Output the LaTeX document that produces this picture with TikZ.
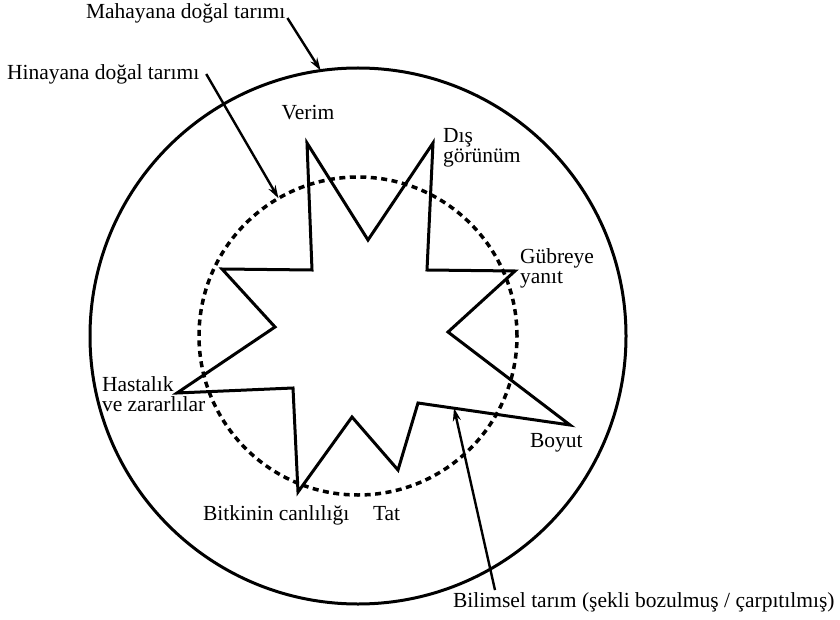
\documentclass[tikz,border=0pt]{standalone}
\usepackage{fontspec}
\setmainfont{Liberation Serif}
\usetikzlibrary{arrows.meta}
\begin{document}
\begin{tikzpicture}[x=1pt,y=-1pt,
  lbl/.style={inner sep=0pt,outer sep=0pt,font=\fontsize{21.5}{20.5}\selectfont},
  mlbl/.style={lbl,align=left,anchor=north west},
  ring/.style={circle,draw,line width=3pt,inner sep=0pt,outer sep=0pt},
  dashring/.style={circle,draw,line width=3.5pt,dash pattern=on 6pt off 4.5pt,inner sep=0pt,outer sep=0pt},
  starline/.style={draw,line width=3pt,line join=miter},
  arr/.style={line width=2.4pt,-{Stealth[length=13pt,width=8pt]}}]
\fill[white] (0,0) rectangle (840,620);
\useasboundingbox (0,0) rectangle (840,620);
% circles
\node[ring,minimum size=536pt] (outer) at (358,336) {};
\node[dashring,minimum size=318pt] (inner) at (358,336) {};
% star
\draw[starline] (307,143) -- (368,240) -- (433,143) -- (427,270) -- (515,271)
  -- (448,332) -- (570,425) -- (418,403) -- (398,470) -- (352,417)
  -- (298,492) -- (293,388) -- (177,393) -- (275,327) -- (222,269)
  -- (312,270) -- cycle;
\coordinate (bt) at (454,408);
% labels
\node[lbl,anchor=base west] (mah) at (86,19) {Mahayana doğal tarımı};
\node[lbl,anchor=base west] (hin) at (7,80) {Hinayana doğal tarımı};
\node[lbl,anchor=base] (verim) at (308,120) {Verim};
\node[mlbl] (dis) at (443,128) {Dış\\görünüm};
\node[mlbl] (gub) at (520,248.5) {Gübreye\\yanıt};
\node[lbl,anchor=base west] (boyut) at (530,447) {Boyut};
\node[lbl,anchor=base west] (bitki) at (203,520) {Bitkinin canlılığı};
\node[lbl,anchor=base west] (tat) at (373,520) {Tat};
\node[mlbl] (hast) at (102,376.5) {Hastalık\\ve zararlılar};
\node[lbl,anchor=base west] (bil) at (453,607) {Bilimsel tarım (şekli bozulmuş / çarpıtılmış)};
% arrows
\draw[arr] ([xshift=2pt,yshift=1pt]mah.base east) -- (outer.98);
\draw[arr] ([xshift=7pt,yshift=6pt]hin.base east) -- (inner.120);
\draw[arr] ([xshift=42pt,yshift=2pt]bil.north west) -- (bt);
\end{tikzpicture}
\end{document}
